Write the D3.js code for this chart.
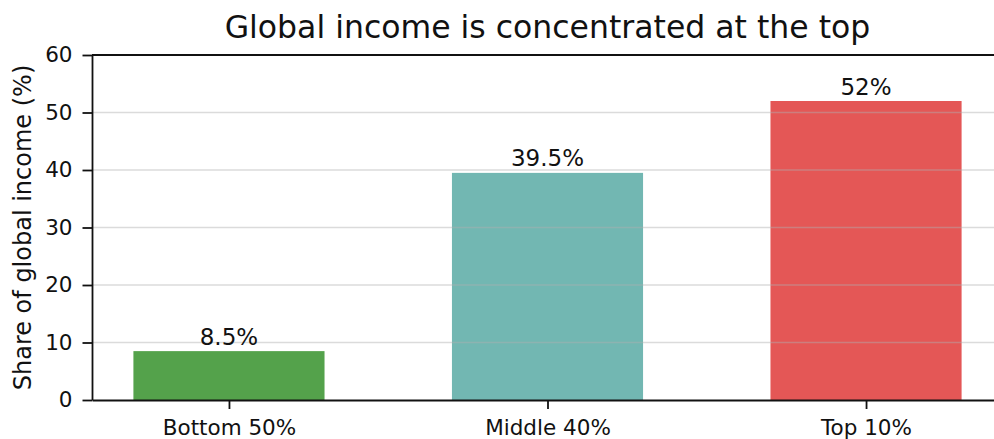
<!DOCTYPE html>
<html>
<head>
<meta charset="utf-8">
<script src="https://cdn.jsdelivr.net/npm/d3@7"></script>
<style>
  body { margin: 0; background: #fff; }
  text { font-family: "DejaVu Sans", sans-serif; fill: #111; }
</style>
</head>
<body>
<script>
// data
const groups = ["Bottom 50%", "Middle 40%", "Top 10%"];
const shares = [8.5, 39.5, 52];
const valueLabels = ["8.5%", "39.5%", "52%"];
const colors = ["#54a24b", "#72b7b2", "#e45756"];
const yTicks = [0, 10, 20, 30, 40, 50, 60];

let w = 994;
let h = 439;
let padL = 92, padR = 1003, padT = 55, padB = 400;

const xScale = d3.scaleLinear()
  .domain([-0.43, 2.43])
  .range([padL, padR]);

const yScale = d3.scaleLinear()
  .domain([0, 60])
  .range([padB, padT]);

const barW = xScale(0.6) - xScale(0);

const svg = d3.select("body")
  .append("svg")
  .attr("width", w)
  .attr("height", h);

// bars
svg.selectAll("rect.bar")
  .data(shares)
  .enter()
  .append("rect")
  .attr("class", "bar")
  .attr("x", function(d, i) { return xScale(i) - barW / 2; })
  .attr("y", function(d) { return yScale(d); })
  .attr("width", barW)
  .attr("height", function(d) { return yScale(0) - yScale(d); })
  .attr("fill", function(d, i) { return colors[i]; });

// grid (drawn over bars)
svg.append("g")
  .selectAll("line")
  .data(yTicks.slice(1, -1))
  .enter()
  .append("line")
  .attr("x1", padL)
  .attr("x2", w)
  .attr("y1", function(d) { return yScale(d); })
  .attr("y2", function(d) { return yScale(d); })
  .attr("stroke", "#b0b0b0")
  .attr("stroke-opacity", 0.45)
  .attr("stroke-width", 1.3);

// value labels
svg.selectAll("text.val")
  .data(shares)
  .enter()
  .append("text")
  .attr("class", "val")
  .attr("x", function(d, i) { return xScale(i); })
  .attr("y", function(d) { return yScale(d) - 6.5; })
  .attr("text-anchor", "middle")
  .style("font-size", "23px")
  .text(function(d, i) { return valueLabels[i]; });

// axes
const yAxis = d3.axisLeft(yScale).tickValues(yTicks).tickSize(9.5).tickSizeOuter(0).tickPadding(10);
const xAxis = d3.axisBottom(xScale).tickValues([0, 1, 2])
  .tickFormat(function(d) { return groups[d]; }).tickSize(9).tickSizeOuter(0).tickPadding(11);

const gy = svg.append("g")
  .attr("transform", "translate(" + padL + ",0)")
  .call(yAxis);
const gx = svg.append("g")
  .attr("transform", "translate(0," + padB + ")")
  .call(xAxis);

[gx, gy].forEach(function(g) {
  g.select(".domain").attr("stroke", "#111").attr("stroke-width", 1.8);
  g.selectAll(".tick line").attr("stroke", "#111").attr("stroke-width", 1.8);
  g.selectAll(".tick text").style("font-size", "21.5px").style("font-family", "DejaVu Sans").attr("fill", "#111");
});

// top spine
svg.append("line")
  .attr("x1", padL).attr("x2", w)
  .attr("y1", padT).attr("y2", padT)
  .attr("stroke", "#111").attr("stroke-width", 1.8);

// title
svg.append("text")
  .attr("x", (padL + padR) / 2)
  .attr("y", 38)
  .attr("text-anchor", "middle")
  .style("font-size", "31.5px")
  .text("Global income is concentrated at the top");

// y label
svg.append("text")
  .attr("transform", "translate(31," + (padT + padB) / 2 + ") rotate(-90)")
  .attr("text-anchor", "middle")
  .style("font-size", "24px")
  .text("Share of global income (%)");
</script>
</body>
</html>
